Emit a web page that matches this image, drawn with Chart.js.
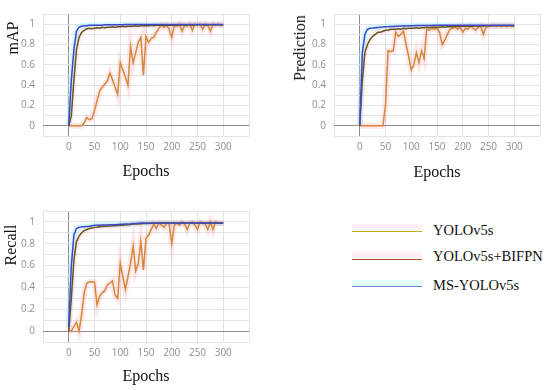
<!DOCTYPE html>
<html>
<head>
<meta charset="utf-8">
<script src="https://cdn.jsdelivr.net/npm/chart.js@4.4.1/dist/chart.umd.min.js"></script>
<style>
  html, body { margin:0; padding:0; background:#fff; }
  body { width:550px; height:390px; position:relative; overflow:hidden; }
  canvas { position:absolute; }
  .ytitle { position:absolute; font-family:"Liberation Serif", serif; font-size:16px; color:#111;
            white-space:nowrap; transform:translate(-50%,-50%) rotate(-90deg); }
  .leg { position:absolute; font-family:"Liberation Serif", serif; font-size:14.5px; color:#111; white-space:nowrap; }
  .band { position:absolute; height:6px; }
  .lline { position:absolute; height:1.5px; }
</style>
</head>
<body>
<canvas id="cMap" width="260" height="190" style="left:0;top:0"></canvas>
<canvas id="cPred" width="260" height="190" style="left:290px;top:0"></canvas>
<canvas id="cRec" width="260" height="195" style="left:0;top:195px"></canvas>

<div class="ytitle" style="left:13px;top:38px">mAP</div>
<div class="ytitle" style="left:300px;top:48px">Prediction</div>
<div class="ytitle" style="left:11px;top:245px">Recall</div>

<div class="band" style="left:352px;top:224px;width:70px;background:rgba(255,210,228,0.35)"></div>
<div class="lline" style="left:352px;top:230.5px;width:70px;background:#c2a632"></div>
<div class="leg" style="left:433px;top:222px">YOLOv5s</div>
<div class="band" style="left:352px;top:252px;width:70px;background:rgba(255,210,228,0.35)"></div>
<div class="lline" style="left:352px;top:258.5px;width:70px;background:#a05a3a"></div>
<div class="leg" style="left:433px;top:248px">YOLOv5s+BIFPN</div>
<div class="band" style="left:352px;top:280px;width:70px;background:rgba(200,245,255,0.5)"></div>
<div class="lline" style="left:352px;top:285.5px;width:70px;background:#6a80c8"></div>
<div class="leg" style="left:433px;top:277px">MS-YOLOv5s</div>

<script>
const epochs = [0,5,10,15,20,25,30,35,40,45,50,55,60,65,70,75,80,85,90,95,100,105,110,115,120,125,130,135,140,145,150,155,160,165,170,175,180,185,190,195,200,205,210,215,220,225,230,235,240,245,250,255,260,265,270,275,280,285,290,295,300];
const seriesNames = ["YOLOv5s","YOLOv5s+BIFPN","MS-YOLOv5s"];
const xTicks = [0,50,100,150,200,250,300];
const yTicks = [0,0.2,0.4,0.6,0.8,1];

const mapV5s = [0,0,0,0,0,0,0.03,0.08,0.06,0.07,
 0.15,0.25,0.34,0.38,0.41,0.44,0.52,0.45,0.38,0.31,
 0.62,0.55,0.48,0.4,0.78,0.62,0.72,0.82,0.87,0.5,
 0.88,0.82,0.86,0.87,0.92,0.96,0.99,0.97,0.99,0.95,
 0.87,0.99,0.98,1.0,0.93,0.99,0.98,1.0,0.94,1.0,
 0.99,1.0,0.95,1.0,0.99,0.93,1.0,0.99,1.0,0.99,0.99];
const mapBifpn = [0,0.1,0.45,0.75,0.87,0.92,0.94,0.955,0.96,0.955,
 0.96,0.965,0.96,0.97,0.965,0.97,0.97,0.975,0.97,0.975,
 0.975,0.98,0.975,0.98,0.98,0.98,0.985,0.98,0.985,0.985,
 0.985,0.985,0.99,0.985,0.99,0.99,0.99,0.99,0.99,0.99,
 0.99,0.99,0.995,0.99,0.995,0.99,0.995,0.995,0.99,0.995,
 0.995,0.995,0.995,0.99,0.995,0.995,0.995,0.995,0.995,0.995,0.995];
const mapMs = [0,0.45,0.75,0.93,0.97,0.98,0.985,0.985,0.99,0.99,
 0.99,0.99,0.99,0.99,0.995,0.995,0.995,0.995,0.995,0.995,
 0.995,0.995,0.997,0.997,0.997,0.997,0.997,0.997,0.997,0.997,
 0.997,0.997,0.997,0.997,0.997,0.997,0.997,0.997,0.997,0.997,
 0.997,0.997,0.997,0.997,0.997,0.997,0.997,0.997,0.997,0.997,
 0.997,0.997,0.997,0.997,0.997,0.997,0.997,0.997,0.997,0.997,0.997];

const predV5s = [0,0,0,0,0,0,0,0,0,0,
 0.2,0.74,0.73,0.74,0.92,0.88,0.9,0.93,0.8,0.68,
 0.55,0.6,0.72,0.62,0.74,0.66,0.95,0.94,0.96,0.95,
 0.96,0.92,0.8,0.84,0.9,0.95,0.96,0.97,0.95,0.97,
 0.92,0.96,0.95,0.98,0.96,0.94,0.97,0.98,0.9,0.97,
 0.98,0.98,0.99,0.98,0.99,0.98,0.99,0.98,0.99,0.98,0.98];
const predBifpn = [0,0.45,0.72,0.8,0.85,0.88,0.9,0.92,0.92,0.93,
 0.94,0.94,0.95,0.95,0.95,0.955,0.95,0.96,0.955,0.96,
 0.96,0.96,0.965,0.96,0.965,0.965,0.97,0.965,0.97,0.97,
 0.97,0.97,0.975,0.97,0.975,0.975,0.975,0.98,0.975,0.98,
 0.98,0.98,0.98,0.98,0.98,0.985,0.98,0.985,0.98,0.985,
 0.985,0.985,0.985,0.985,0.985,0.985,0.985,0.985,0.985,0.985,0.985];
const predMs = [0,0.72,0.9,0.95,0.96,0.962,0.965,0.968,0.97,0.972,
 0.975,0.975,0.977,0.978,0.98,0.98,0.982,0.982,0.983,0.984,
 0.985,0.985,0.986,0.986,0.987,0.987,0.988,0.988,0.988,0.989,
 0.989,0.989,0.99,0.99,0.99,0.99,0.99,0.99,0.99,0.99,
 0.99,0.99,0.99,0.99,0.99,0.99,0.99,0.99,0.99,0.99,
 0.99,0.99,0.99,0.99,0.99,0.99,0.99,0.99,0.99,0.99,0.99];

const recV5s = [0,0,0.04,0.08,0,0.15,0.35,0.44,0.45,0.45,
 0.45,0.24,0.32,0.35,0.37,0.42,0.44,0.46,0.33,0.3,
 0.62,0.5,0.38,0.5,0.62,0.78,0.55,0.62,0.82,0.56,
 0.85,0.88,0.93,0.98,0.94,0.99,0.97,0.95,0.99,0.98,
 0.8,0.97,0.99,0.97,1.0,0.98,0.93,0.99,1.0,0.97,
 0.93,1.0,0.99,0.98,0.93,1.0,0.93,1.0,0.99,0.99,0.99];
const recBifpn = [0,0.3,0.65,0.82,0.87,0.9,0.92,0.93,0.94,0.945,
 0.95,0.952,0.955,0.957,0.96,0.96,0.962,0.965,0.965,0.967,
 0.97,0.97,0.972,0.975,0.977,0.98,0.98,0.982,0.983,0.985,
 0.985,0.986,0.987,0.988,0.988,0.989,0.99,0.99,0.99,0.99,
 0.99,0.99,0.99,0.99,0.99,0.99,0.99,0.99,0.99,0.99,
 0.99,0.99,0.99,0.99,0.99,0.99,0.99,0.99,0.99,0.99,0.99];
const recMs = [0.04,0.6,0.88,0.94,0.95,0.955,0.955,0.958,0.96,0.965,
 0.97,0.97,0.97,0.972,0.972,0.973,0.975,0.975,0.975,0.977,
 0.978,0.978,0.98,0.982,0.983,0.985,0.986,0.988,0.99,0.99,
 0.99,0.99,0.99,0.99,0.99,0.99,0.99,0.99,0.99,0.99,
 0.99,0.99,0.99,0.99,0.99,0.99,0.99,0.99,0.99,0.99,
 0.99,0.99,0.99,0.99,0.99,0.99,0.99,0.99,0.99,0.99,0.99];

const lineColors = ['#d4883c', '#65561e', '#3f47c6'];
const haloColors = ['rgba(255,150,160,0.22)', 'rgba(255,160,170,0.18)', 'rgba(140,235,255,0.35)'];

function pts(vals){ return epochs.map((e,i)=>({x:e, y:vals[i]})); }

function makeChart(id, seriesVals, cfg){
  const datasets = [];
  seriesVals.forEach((v,i)=>{
    datasets.push({label: seriesNames[i]+' band', data: pts(v), borderColor: haloColors[i], borderWidth: 6,
      pointRadius:0, tension:0, fill:false, order: 10});
  });
  seriesVals.forEach((v,i)=>{
    datasets.push({label: seriesNames[i], data: pts(v), borderColor: lineColors[i], borderWidth: 1.5,
      pointRadius:0, tension:0, fill:false, order: 3-i});
  });
  return new Chart(document.getElementById(id), {
    type:'line',
    data:{datasets},
    options:{
      responsive:false, animation:false, events:[],
      layout:{padding:{top:cfg.top, right:cfg.right, left:0, bottom:0}},
      plugins:{legend:{display:false}, tooltip:{enabled:false}},
      scales:{
        x:{type:'linear', min:-50, max:350,
          afterFit:(s)=>{ s.height = cfg.xh; },
          border:{display:false},
          grid:{drawTicks:false, lineWidth:1,
            color:(c)=> c.tick && c.tick.value===0 ? '#8c8c8c' : '#e3e3e3'},
          ticks:{stepSize:50, padding:5, color:'#8e8e8e', font:{family:'"Open Sans", sans-serif', size:10},
            autoSkip:false, maxRotation:0,
            callback:(v)=> xTicks.includes(v) ? String(v) : ''},
          title:{display:true, text:'Epochs', color:'#111',
            font:{family:'"Liberation Serif", serif', size:16}, padding:{top:0,bottom:cfg.tpad}}
        },
        y:{min:-0.1, max:1.1,
          afterFit:(s)=>{ s.width = cfg.yw; },
          border:{display:false},
          grid:{drawTicks:false, lineWidth:1,
            color:(c)=> c.tick && Math.abs(c.tick.value)<1e-9 ? '#8c8c8c' : '#e3e3e3'},
          ticks:{stepSize:0.1, padding:8, color:'#8e8e8e', font:{family:'"Open Sans", sans-serif', size:10},
            autoSkip:false,
            callback:(v)=>{ const t = yTicks.find(y=>Math.abs(y-v)<1e-6); return t===undefined ? '' : String(t); }}
        }
      }
    }
  });
}

makeChart('cMap', [mapV5s, mapBifpn, mapMs], {top:5, right:11, xh:54, yw:43, tpad:8.4});
makeChart('cPred', [predV5s, predBifpn, predMs], {top:5, right:10, xh:54, yw:44, tpad:7.4});
makeChart('cRec', [recV5s, recBifpn, recMs], {top:16, right:11, xh:48, yw:43, tpad:3.4});
</script>
</body>
</html>
